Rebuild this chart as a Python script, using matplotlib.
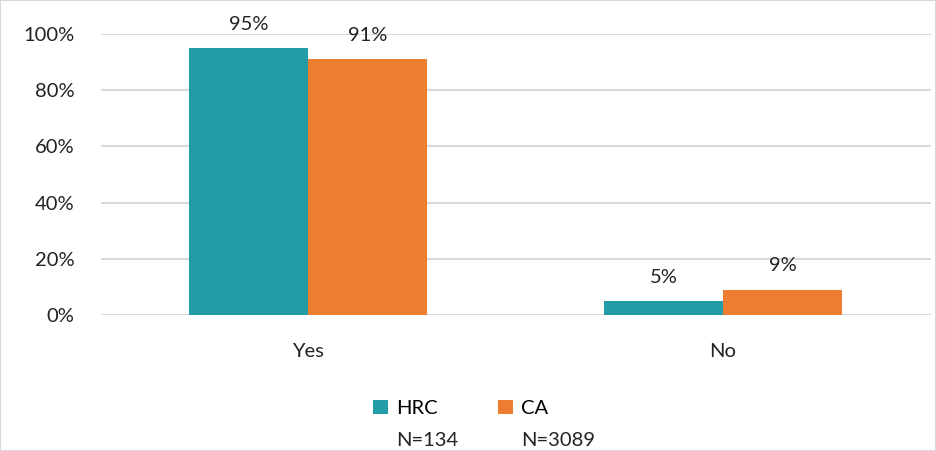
import matplotlib
matplotlib.use("Agg")
import matplotlib.pyplot as plt
from matplotlib.patches import Rectangle
import numpy as np

# chart data
categories = ["Yes", "No"]
hrc = [95, 5]
ca = [91, 9]
series_names = ["HRC", "CA"]
series_n = ["N=134", "N=3089"]
colors = ["#229DA7", "#ED7D31"]

plt.rcParams["font.family"] = ["Lato", "DejaVu Sans"]
FS = 14.5

fig = plt.figure(figsize=(9.36, 4.51), dpi=100)
ax = fig.add_axes([0.1074, 0.3016, 0.8868, 0.623])

x = np.arange(len(categories))
w = 0.287
for i, (vals, name, col) in enumerate(zip([hrc, ca], series_names, colors)):
    b = ax.bar(x + (i - 0.5) * w, vals, width=w, color=col, label=name, zorder=3)
    ax.bar_label(b, labels=["%d%%" % v for v in vals], padding=11,
                 fontsize=FS, color="#222222")

ax.set_xlim(-0.5, 1.5)
ax.set_ylim(0, 100)
ax.set_yticks(range(0, 101, 20))
ax.set_yticklabels(["%d%%" % v for v in range(0, 101, 20)])
ax.set_xticks(x)
ax.set_xticklabels(categories)
ax.yaxis.grid(True, color="#d9d9d9", linewidth=1.5, zorder=0)
for s in ax.spines.values():
    s.set_visible(False)
ax.tick_params(axis="y", length=0, pad=19, labelsize=FS, labelcolor="#222222")
ax.tick_params(axis="x", length=0, pad=20, labelsize=FS, labelcolor="#222222")

leg = fig.legend(loc="upper center", bbox_to_anchor=(0.492, 0.132), ncol=2,
                 frameon=False, fontsize=FS, handlelength=0.75, handleheight=0.75,
                 handletextpad=0.4, columnspacing=3.0, borderaxespad=0)

# put the N counts under each legend label
fig.canvas.draw()
inv = fig.transFigure.inverted()
for txt, n in zip(leg.get_texts(), series_n):
    bb = txt.get_window_extent().transformed(inv)
    fig.text(bb.x0, bb.y0 - 0.034, n, ha="left", va="top", fontsize=FS,
             color="#222222")

fig.patches.append(Rectangle((0, 0), 1, 1, transform=fig.transFigure,
                             fill=False, edgecolor="#d9d9d9", linewidth=1.5))

fig.savefig("out.png", dpi=100)
